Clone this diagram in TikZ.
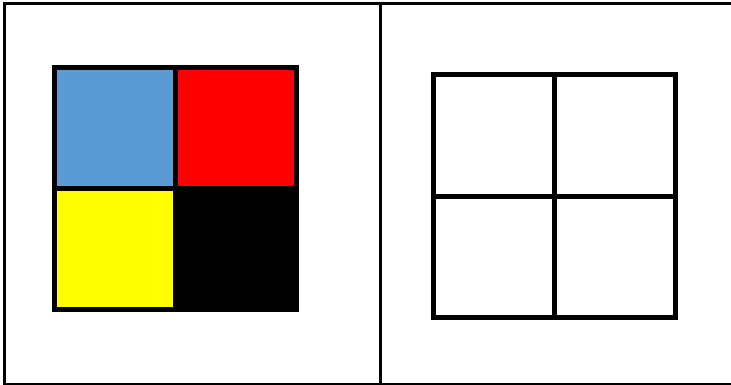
\documentclass[tikz,border=0pt]{standalone}
\usepackage{xcolor}
\usepackage{tikz}
\usetikzlibrary{positioning}
\definecolor{cellblue}{RGB}{91,155,213}
\definecolor{cellred}{RGB}{255,0,0}
\definecolor{cellyellow}{RGB}{255,255,0}

\begin{document}
\begin{tikzpicture}[
    x=1pt, y=-1pt,
    frame/.style={line width=3pt, draw=black},
    cell/.style={rectangle, draw=black, line width=5pt, fill=white,
                 minimum width=121pt, minimum height=121pt, outer sep=0pt, inner sep=0pt}
]
    \useasboundingbox (0,0) rectangle (731,385);

    % table frame
    \draw[frame] (735,3.5) -- (4.5,3.5) -- (4.5,384) -- (735,384);
    \draw[frame] (380.5,3.5) -- (380.5,384);

    % left square, coloured
    \node[cell, fill=cellblue] (lefttl) at (115,128) {};
    \node[cell, fill=cellred, right=0pt of lefttl] (lefttr) {};
    \node[cell, fill=cellyellow, below=0pt of lefttl] (leftbl) {};
    \node[cell, fill=black, right=0pt of leftbl] (leftbr) {};

    % right square, empty
    \node[cell] (righttl) at (494,135.5) {};
    \node[cell, right=0pt of righttl] (righttr) {};
    \node[cell, below=0pt of righttl] (rightbl) {};
    \node[cell, right=0pt of rightbl] (rightbr) {};
\end{tikzpicture}
\end{document}
